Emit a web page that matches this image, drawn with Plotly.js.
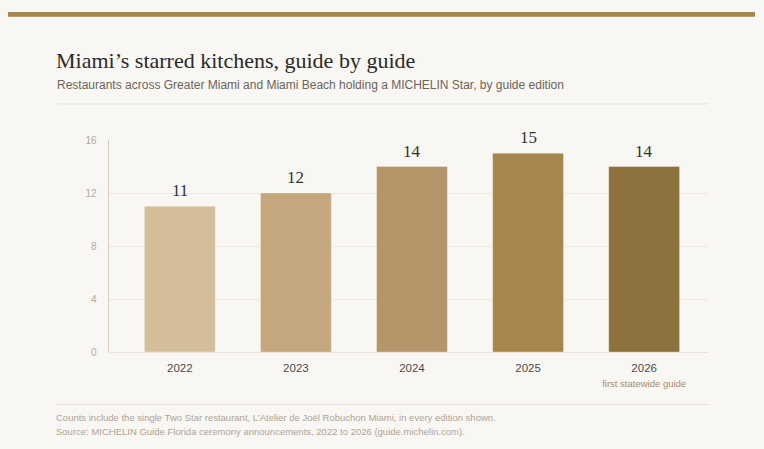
<!DOCTYPE html>
<html>
<head>
<meta charset="utf-8">
<script src="https://cdn.plot.ly/plotly-3.0.1.min.js"></script>
<style>
  html, body { margin: 0; padding: 0; background: #f9f7f3; }
  #chart { width: 764px; height: 449px; }
</style>
</head>
<body>
<div id="chart"></div>
<script>
// guide editions and starred restaurant counts
const years = ['2022', '2023', '2024', '2025', '2026'];
const stars = [11, 12, 14, 15, 14];
const notes = ['', '', '', '', 'first statewide guide'];
const barColors = ['#d4be9a', '#c4a77c', '#b59569', '#a7864d', '#8d7240'];
const yTicks = [0, 4, 8, 12, 16];

const footnotes = [
    'Counts include the single Two Star restaurant, L\u2019Atelier de Jo\u00ebl Robuchon Miami, in every edition shown.',
    'Source: MICHELIN Guide Florida ceremony announcements, 2022 to 2026 (guide.michelin.com).'
];

const SANS = '"Liberation Sans", Arial, sans-serif';
const SERIF = '"Liberation Serif", "Times New Roman", serif';

const tickText = years.map((y, i) => notes[i]
    ? y + '<br><span style="font-size:9.5px;color:#a58d68">' + notes[i] + '</span>'
    : y);

const trace = {
    type: 'bar',
    x: years,
    y: stars,
    marker: {
        color: barColors,
        line: { color: 'rgba(255,255,255,0.3)', width: 1 }
    },
    hoverinfo: 'none'
};

// numeric-looking category names would be read as positions, so use the index
const valueLabels = years.map((y, i) => ({
    x: i, y: stars[i], xref: 'x', yref: 'y',
    text: String(stars[i]),
    showarrow: false, yanchor: 'bottom', yshift: 4,
    font: { family: SERIF, size: 17, color: '#333333' }
}));

const footLabels = footnotes.map((t, i) => ({
    x: -0.0918, y: -0.311 - i * 0.066, xref: 'paper', yref: 'paper',
    text: t, showarrow: false, xanchor: 'left', yanchor: 'middle',
    font: { family: SANS, size: 9.5, color: '#ada496' }
}));

const layout = {
    width: 764,
    height: 449,
    paper_bgcolor: '#f9f7f3',
    plot_bgcolor: '#f9f7f3',
    margin: { l: 109, r: 56, t: 140, b: 97 },
    showlegend: false,
    bargap: 0.39,
    title: {
        text: 'Miami\u2019s starred kitchens, guide by guide',
        font: { family: SERIF, size: 22, color: '#2a2a2a' },
        xref: 'container', x: 56 / 764, xanchor: 'left',
        yref: 'container', y: 1 - 60 / 449, yanchor: 'middle'
    },
    xaxis: {
        type: 'category',
        range: [-0.61, 4.55],
        tickvals: years,
        ticktext: tickText,
        tickfont: { family: SANS, size: 11.5, color: '#4a4a4a' },
        ticks: 'outside', ticklen: 5, tickcolor: 'rgba(0,0,0,0)',
        showline: false, showgrid: false, zeroline: false,
        fixedrange: true
    },
    yaxis: {
        range: [0, 16],
        tickvals: yTicks,
        tickfont: { family: SANS, size: 10, color: '#b3aa9c' },
        ticks: 'outside', ticklen: 9, tickcolor: 'rgba(0,0,0,0)',
        showgrid: true, gridcolor: '#eee9df', gridwidth: 1,
        zeroline: true, zerolinecolor: '#ebe5da', zerolinewidth: 1,
        showline: true, linecolor: '#d8cdbd', linewidth: 1.5,
        fixedrange: true
    },
    shapes: [
        // gold band across the top
        { type: 'rect', xref: 'paper', yref: 'paper',
          x0: -0.1686, x1: 1.0785, y0: 1.581, y1: 1.604,
          fillcolor: '#a8854a', line: { width: 0 } },
        // rule under the subtitle
        { type: 'line', xref: 'paper', yref: 'paper',
          x0: -0.0868, x1: 1.0, y0: 1.17, y1: 1.17,
          line: { color: '#e7e2d8', width: 1 } },
        // rule above the notes
        { type: 'line', xref: 'paper', yref: 'paper',
          x0: -0.0868, x1: 1.0, y0: -0.2476, y1: -0.2476,
          line: { color: '#e7e2d8', width: 1 } }
    ],
    annotations: [
        { x: -0.0902, y: 1.26, xref: 'paper', yref: 'paper',
          text: 'Restaurants across Greater Miami and Miami Beach holding a MICHELIN Star, by guide edition',
          showarrow: false, xanchor: 'left', yanchor: 'middle',
          font: { family: SANS, size: 12, color: '#6b645b' } }
    ].concat(valueLabels, footLabels)
};

Plotly.newPlot('chart', [trace], layout, { displayModeBar: false, staticPlot: true });
</script>
</body>
</html>
